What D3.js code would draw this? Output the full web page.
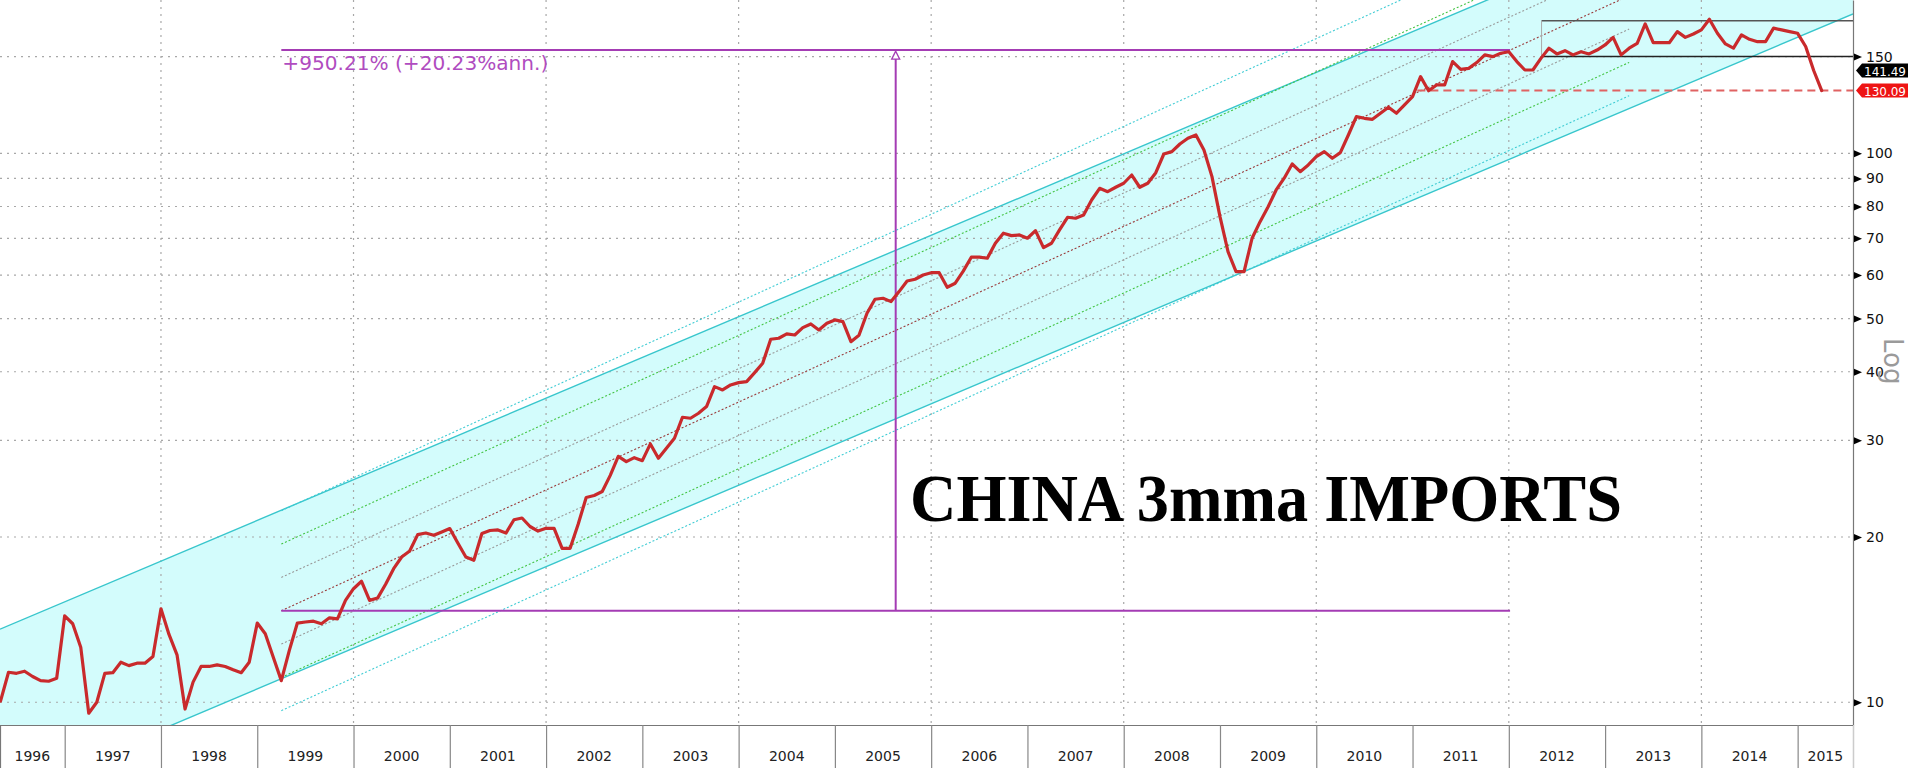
<!DOCTYPE html>
<html><head><meta charset="utf-8">
<script src="https://cdn.jsdelivr.net/npm/d3@7"></script>
<style>
html,body{margin:0;padding:0;background:#fff;overflow:hidden}
svg{display:block}
</style></head><body>
<svg id="chart" width="1908" height="768"></svg>
<script>
// ---------------- data ----------------
const startYear = 1996, startMonth = 5;   // first monthly point: May 1996
const imports = [
  10.05, 11.34, 11.29, 11.39, 11.14, 10.95, 10.92, 11.06,
  14.37, 13.90, 12.60, 9.55, 10.00, 11.29, 11.32, 11.83, 11.66, 11.78, 11.78, 12.12,
  14.80, 13.29, 12.20, 9.72, 10.88, 11.62, 11.62, 11.70, 11.62, 11.46, 11.32, 11.83,
  13.94, 13.33, 12.08, 10.95, 12.43, 13.94, 14.00, 14.05, 13.90, 14.25, 14.19, 15.33,
  16.10, 16.61, 15.33, 15.48, 16.40, 17.51, 18.39, 18.86, 20.20, 20.34, 20.14, 20.43,
  20.72, 19.50, 18.39, 18.14, 20.30, 20.55, 20.60, 20.33, 21.50, 21.66, 20.90, 20.50,
  20.74, 20.74, 19.07, 19.07, 21.10, 23.60, 23.80, 24.20, 25.90, 28.05, 27.43, 27.90,
  27.55, 29.55, 27.83, 29.02, 30.26, 33.05, 32.91, 33.61, 34.56, 37.58, 37.06, 37.84,
  38.21, 38.37, 39.85, 41.45, 45.84, 46.03, 46.88, 46.67, 48.13, 48.88, 47.66, 49.02,
  49.71, 49.35, 45.38, 46.61, 51.12, 54.21, 54.44, 53.68, 55.98, 58.53, 58.95, 60.02,
  60.60, 60.60, 57.01, 57.98, 61.00, 64.67, 64.67, 64.39, 68.57, 71.51, 70.79, 71.00,
  70.02, 72.28, 67.31, 68.57, 72.50, 76.46, 76.14, 77.21, 82.20, 86.34, 85.13, 86.72,
  88.19, 91.29, 86.72, 88.19, 92.17, 99.70, 100.69, 103.97, 106.49, 107.97, 101.39, 90.67,
  76.65, 66.18, 60.85, 60.85, 70.02, 75.07, 79.92, 85.74, 90.07, 95.61, 92.58, 95.21,
  98.59, 100.69, 97.93, 100.26, 107.97, 116.6, 115.8, 115.3, 118.3, 121.3, 118.3, 122.5,
  126.8, 137.9, 130.0, 133.2, 133.2, 146.9, 142.2, 142.8, 146.3, 151.1, 150.0, 152.1,
  153.1, 146.9, 141.8, 141.8, 148.9, 155.4, 151.7, 153.8, 151.1, 153.1, 151.7, 154.2,
  157.5, 162.6, 151.1, 155.4, 158.6, 172.0, 159.0, 159.0, 159.0, 166.6, 162.6, 164.9,
  167.8, 175.4, 165.4, 158.2, 155.4, 164.3, 161.3, 159.7, 159.7, 169.0, 167.8, 166.6,
  165.4, 156.5, 141.5, 130.09
];
const yearLabels = d3.range(1996, 2016);
const gridYears = [1998, 2000, 2002, 2004, 2006, 2008, 2010, 2012, 2014];
const yTicks = [10, 20, 30, 40, 50, 60, 70, 80, 90, 100, 150];
const lastValues = [141.49, 130.09];
const lastTexts = ["141.49", "130.09"];
// long-run channel (log-linear), values at its start time
const channelStart = 1996.328, channelUpper = 13.585, channelLower = 6.699, channelLogSlope = 0.07419;
// regression channel used for the measurement
const regStart = 1999.25, regEnd = 2012.013, regDrawEnd = 2013.25;
const regBase = 14.68, regAnnual = 0.2023, regSigmaLog = 0.0607;
const sigmaLevels = [-3, -2, -1, 0, 1, 2, 3];
const measureText = "+950.21% (+20.23%ann.)";
const titleText = "CHINA 3mma IMPORTS";
const rangeBoxStart = 2012.34, rangeBoxLow = 150, rangeBoxHigh = 174.4;
const dashedStart = 2011.05, dashedValue = 130.09;

// ---------------- layout ----------------
const W = 1853, H = 725, svgW = 1908, svgH = 768;
const svg = d3.select("#chart");
const x = d3.scaleLinear().domain([1996.328, 2015.575]).range([0, W]);
const y = d3.scaleLog().domain([9.09, 190.2]).range([H, 0]);
const tEnd = x.domain()[1];

svg.append("rect").attr("width", svgW).attr("height", svgH).attr("fill", "#fff");
svg.append("defs").append("clipPath").attr("id", "plotclip")
  .append("rect").attr("x", 0).attr("y", 0).attr("width", W).attr("height", H);
const plot = svg.append("g").attr("clip-path", "url(#plotclip)");

// long-run channel fill + lines
const chU = t => channelUpper * Math.pow(10, channelLogSlope * (t - channelStart));
const chL = t => channelLower * Math.pow(10, channelLogSlope * (t - channelStart));
const ts = [channelStart, tEnd];
const area = d3.area().x(d => x(d)).y0(d => y(chL(d))).y1(d => y(chU(d)));
plot.append("path").datum(ts).attr("d", area).attr("fill", "#d3fcfc");

// gridlines
plot.selectAll(".hgrid").data(yTicks).join("line")
  .attr("x1", 0).attr("x2", W).attr("y1", d => y(d)).attr("y2", d => y(d))
  .attr("stroke", "#a8a8a8").attr("stroke-width", 1.2).attr("stroke-dasharray", "2,5");
plot.selectAll(".vgrid").data(gridYears).join("line")
  .attr("x1", d => x(d)).attr("x2", d => x(d)).attr("y1", 0).attr("y2", H)
  .attr("stroke", "#a8a8a8").attr("stroke-width", 1.2).attr("stroke-dasharray", "2,5");

const line = d3.line().x(d => x(d[0])).y(d => y(d[1]));
[chU, chL].forEach(f => {
  plot.append("path").datum(ts.map(t => [t, f(t)])).attr("d", line)
    .attr("fill", "none").attr("stroke", "#38c6cc").attr("stroke-width", 1.4);
});

// regression channel
const regC = t => regBase * Math.pow(1 + regAnnual, t - regStart);
const sigColor = k => k === 0 ? "#9a3a3a" : (Math.abs(k) === 1 ? "#9a9a9a" : (Math.abs(k) === 2 ? "#44c444" : "#40ccd4"));
sigmaLevels.forEach(k => {
  const f = t => regC(t) * Math.pow(10, k * regSigmaLog);
  plot.append("path").datum([regStart, regDrawEnd].map(t => [t, f(t)])).attr("d", line)
    .attr("fill", "none").attr("stroke", sigColor(k)).attr("stroke-width", 1.1)
    .attr("stroke-dasharray", "2,2");
});

// measurement (purple)
const purple = "#a43cb4";
const vStart = regC(regStart), vEnd = regC(regEnd);
[vStart, vEnd].forEach(v => {
  plot.append("line").attr("x1", x(regStart)).attr("x2", x(regEnd))
    .attr("y1", y(v)).attr("y2", y(v)).attr("stroke", purple).attr("stroke-width", 2);
});
const tMid = (regStart + regEnd) / 2;
plot.append("line").attr("x1", x(tMid)).attr("x2", x(tMid))
  .attr("y1", y(vStart)).attr("y2", y(vEnd) + 8).attr("stroke", purple).attr("stroke-width", 2);
plot.append("path")
  .attr("d", `M${x(tMid)},${y(vEnd) + 1} L${x(tMid) - 4},${y(vEnd) + 9} L${x(tMid) + 4},${y(vEnd) + 9} Z`)
  .attr("fill", "#fff").attr("stroke", purple).attr("stroke-width", 1.3);
svg.append("text").attr("x", x(regStart) + 1).attr("y", y(vEnd) + 20)
  .attr("font-family", "DejaVu Sans, Verdana, sans-serif").attr("font-size", 20)
  .attr("textLength", 266).attr("lengthAdjust", "spacingAndGlyphs")
  .attr("fill", "#b04cc0").text(measureText);

// red dashed last-value line
plot.append("line").attr("x1", x(dashedStart)).attr("x2", W)
  .attr("y1", y(dashedValue)).attr("y2", y(dashedValue))
  .attr("stroke", "#e06262").attr("stroke-width", 2).attr("stroke-dasharray", "8,5");

// range box (black)
plot.append("line").attr("x1", x(rangeBoxStart)).attr("x2", W)
  .attr("y1", y(rangeBoxHigh)).attr("y2", y(rangeBoxHigh)).attr("stroke", "#555").attr("stroke-width", 1.6);
plot.append("line").attr("x1", x(rangeBoxStart)).attr("x2", W)
  .attr("y1", y(rangeBoxLow)).attr("y2", y(rangeBoxLow)).attr("stroke", "#222").attr("stroke-width", 1.5);
plot.append("line").attr("x1", x(rangeBoxStart)).attr("x2", x(rangeBoxStart))
  .attr("y1", y(rangeBoxHigh)).attr("y2", y(rangeBoxLow)).attr("stroke", "#aaa").attr("stroke-width", 1);

// data line
const series = imports.map((v, i) => [startYear + (startMonth - 1 + i) / 12, v]);
plot.append("path").datum(series).attr("d", line)
  .attr("fill", "none").attr("stroke", "#c92a2c").attr("stroke-width", 3.2)
  .attr("stroke-linejoin", "round").attr("stroke-linecap", "round");

// title
svg.append("text").attr("x", 910).attr("y", 521)
  .attr("font-family", "Liberation Serif, Times New Roman, serif").attr("font-weight", "bold")
  .attr("font-size", 68).attr("textLength", 712).attr("lengthAdjust", "spacingAndGlyphs")
  .attr("fill", "#000").text(titleText);

// ---------------- axes ----------------
// right axis
const yAxis = d3.axisRight(y).tickValues(yTicks).tickFormat(d3.format("d")).tickSize(0).tickPadding(13);
const ya = svg.append("g").attr("transform", `translate(${W},0)`).call(yAxis);
ya.select(".domain").attr("stroke", "#777").attr("stroke-width", 1.2);
ya.selectAll("text").attr("font-family", "DejaVu Sans, Verdana, sans-serif").attr("font-size", 14).attr("fill", "#111");
ya.selectAll(".tick").append("path").attr("d", "M1,-3.5 L9,0 L1,3.5 Z").attr("fill", "#000");

// bottom axis: year separators
const xAxis = d3.axisBottom(x).tickValues(d3.range(1997, 2016)).tickFormat("").tickSize(43);
const xa = svg.append("g").attr("transform", `translate(0,${H})`).call(xAxis);
xa.select(".domain").attr("stroke", "#777").attr("stroke-width", 1.2);
xa.selectAll(".tick line").attr("stroke", "#888").attr("stroke-width", 1.2);
svg.append("line").attr("x1", W + 0.5).attr("x2", W + 0.5).attr("y1", H).attr("y2", svgH)
  .attr("stroke", "#ccc");
svg.selectAll(".yearlab").data(yearLabels).join("text")
  .attr("x", d => (Math.max(x(d), 0) + Math.min(x(d + 1), W)) / 2)
  .attr("y", 761).attr("text-anchor", "middle")
  .attr("font-family", "DejaVu Sans, Verdana, sans-serif").attr("font-size", 14).attr("fill", "#222")
  .text(d => d);

// last-value labels
const lastColors = ["#000", "#ee1414"];
lastValues.forEach((v, i) => {
  const yc = y(v);
  svg.append("path").attr("d", `M${W + 3},${yc} L${W + 9},${yc - 7} L${svgW},${yc - 7} L${svgW},${yc + 7} L${W + 9},${yc + 7} Z`)
    .attr("fill", lastColors[i]);
  svg.append("text").attr("x", W + 11).attr("y", yc + 5)
    .attr("font-family", "DejaVu Sans, Verdana, sans-serif").attr("font-size", 13).attr("fill", "#fff")
    .attr("textLength", 42).attr("lengthAdjust", "spacingAndGlyphs")
    .text(lastTexts[i]);
});

// "Log" label
svg.append("text").attr("transform", "translate(1884,338) rotate(90)")
  .attr("font-family", "DejaVu Sans, Verdana, sans-serif").attr("font-size", 26).attr("fill", "#9a9a9a")
  .text("Log");
</script>
</body></html>
